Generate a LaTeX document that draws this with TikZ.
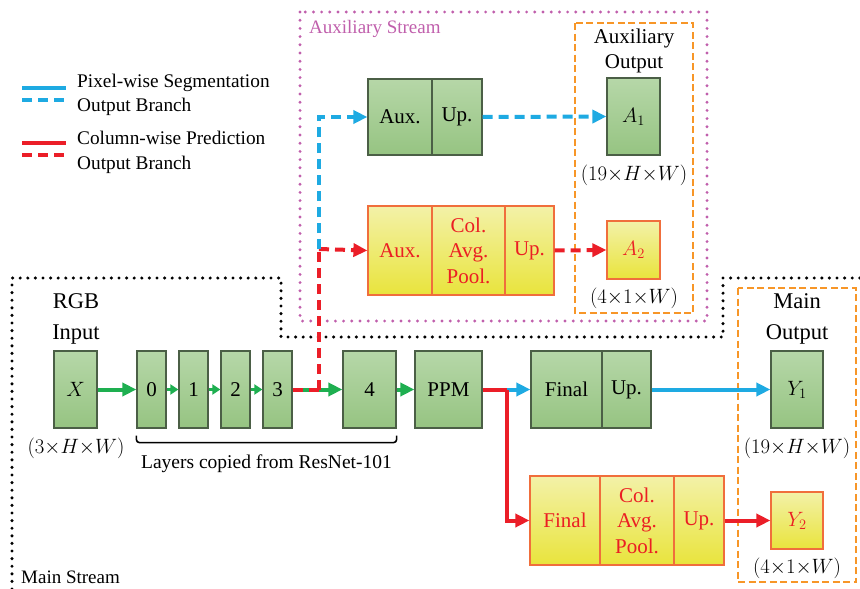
\documentclass[tikz,border=0pt]{standalone}
\usepackage{fontspec}
\setmainfont{Liberation Serif}
\usetikzlibrary{arrows.meta,calc}
\definecolor{gtop}{RGB}{182,215,168}
\definecolor{gbot}{RGB}{150,196,130}
\definecolor{gedge}{RGB}{75,95,70}
\definecolor{ytop}{RGB}{243,241,168}
\definecolor{ybot}{RGB}{233,228,60}
\definecolor{yedge}{RGB}{240,110,60}
\definecolor{redtxt}{RGB}{235,30,35}
\definecolor{bluel}{RGB}{30,170,226}
\definecolor{greenl}{RGB}{30,175,80}
\definecolor{redl}{RGB}{235,30,40}
\definecolor{purp}{RGB}{192,95,172}
\definecolor{orng}{RGB}{247,150,40}
\tikzset{
  gbox/.style={draw=gedge, line width=1.2, top color=gtop, bottom color=gbot, inner sep=0, font=\fontsize{21}{24}\selectfont, align=center},
  ybox/.style={draw=yedge, line width=1.2, top color=ytop, bottom color=ybot, inner sep=0, text=redtxt, font=\fontsize{21}{25.5}\selectfont, align=center},
  lbl/.style={inner sep=0, font=\fontsize{22.5}{31}\selectfont, align=center},
  dimlbl/.style={inner sep=0, font=\fontsize{21}{24}\selectfont},
  garr/.style={draw=greenl, line width=4, -{Triangle[length=14,width=13]}},
  gsmall/.style={draw=greenl, line width=3.5, -{Triangle[length=8,width=10]}},
  barr/.style={draw=bluel, line width=4, -{Triangle[length=14,width=13]}},
  rarr/.style={draw=redl, line width=4, -{Triangle[length=14,width=13]}},
  bdash/.style={draw=bluel, line width=4, dash pattern=on 10 off 6},
  rdash/.style={draw=redl, line width=4, dash pattern=on 10 off 6},
  dotk/.style={draw=black, line width=3.4, line cap=round, dash pattern=on 0pt off 7.6},
  dotp/.style={draw=purp, line width=3.2, line cap=round, dash pattern=on 0pt off 8.2},
  odash/.style={draw=orng, line width=2, dash pattern=on 7 off 3.5},
}
\begin{document}
\begin{tikzpicture}[x=1pt,y=-1pt]
\useasboundingbox (0,0) rectangle (860,589);

% frames
\draw[dotk] (12,589) -- (12,278) -- (281,278) -- (281,337) -- (723,337) -- (723,278) -- (860,278);
\draw[dotp] (300,12) rectangle (707,321);
\draw[odash] (575,23) rectangle (693,313);
\draw[odash] (738,288) rectangle (856,582);
\node[anchor=west, inner sep=0, text=purp, font=\fontsize{19}{20}\selectfont] (auxst) at (309,29) {Auxiliary Stream};
\node[anchor=west, inner sep=0, font=\fontsize{19}{20}\selectfont] (mainst) at (21,577) {Main Stream};

% legend
\coordinate (lb1a) at (22,88); \coordinate (lb1b) at (66,88);
\coordinate (lb2a) at (22,100); \coordinate (lb2b) at (66,100);
\coordinate (lr1a) at (22,143); \coordinate (lr1b) at (66,143);
\coordinate (lr2a) at (22,155); \coordinate (lr2b) at (66,155);
\draw[draw=bluel, line width=4] (lb1a) -- (lb1b);
\draw[draw=bluel, line width=4, dash pattern=on 10 off 6] (lb2a) -- (lb2b);
\draw[draw=redl, line width=4] (lr1a) -- (lr1b);
\draw[draw=redl, line width=4, dash pattern=on 10 off 6] (lr2a) -- (lr2b);
\node[anchor=west, inner sep=0, align=left, font=\fontsize{19.3}{24.5}\selectfont] (legb) at (77,95) {Pixel-wise Segmentation\\Output Branch};
\node[anchor=west, inner sep=0, align=left, font=\fontsize{19.3}{24.5}\selectfont] (legr) at (77,152.5) {Column-wise Prediction\\Output Branch};

% main row
\node[gbox, minimum width=43, minimum height=77] (X) at (75.5,389.5) {$X$};
\node[gbox, minimum width=29, minimum height=77] (L0) at (151.5,389.5) {0};
\node[gbox, minimum width=29, minimum height=77] (L1) at (193.5,389.5) {1};
\node[gbox, minimum width=29, minimum height=77] (L2) at (235.5,389.5) {2};
\node[gbox, minimum width=29, minimum height=77] (L3) at (277.5,389.5) {3};
\node[gbox, minimum width=53, minimum height=77] (L4) at (369.5,389.5) {4};
\node[gbox, minimum width=67, minimum height=77] (PPM) at (448.5,389.5) {PPM};
\node[gbox, minimum width=71, minimum height=77] (fin) at (566.5,389.5) {Final};
\node[gbox, minimum width=49, minimum height=77] (finup) at (626.5,389.5) {Up.};
\node[gbox, minimum width=52, minimum height=77] (Y1) at (797,389.5) {$Y_1$};

\node[ybox, minimum width=70, minimum height=89] (rfin) at (565,520.5) {Final};
\node[ybox, minimum width=74, minimum height=89] (rcol) at (637,520.5) {Col.\\Avg.\\Pool.};
\node[ybox, minimum width=50, minimum height=89] (rup) at (699,520.5) {Up.};
\node[ybox, minimum width=52, minimum height=57] (Y2) at (797,520.5) {$Y_2$};

% aux
\node[gbox, minimum width=64, minimum height=76] (aux) at (400,117) {Aux.};
\node[gbox, minimum width=50, minimum height=76] (auxup) at (457,117) {Up.};
\node[gbox, minimum width=53, minimum height=77] (A1) at (633.5,116.5) {$A_1$};
\node[ybox, minimum width=64, minimum height=89] (raux) at (400,250.5) {Aux.};
\node[ybox, minimum width=73, minimum height=89] (rcolA) at (468.5,250.5) {Col.\\Avg.\\Pool.};
\node[ybox, minimum width=49, minimum height=89] (rupA) at (529.5,250.5) {Up.};
\node[ybox, minimum width=53, minimum height=58] (A2) at (633.5,250) {$A_2$};

% labels
\node[lbl] (rgb) at (76,318.5) {RGB\\Input};
\node[dimlbl] (dX) at (76,448) {$(3{\times}H{\times}W)$};
\node[lbl, font=\fontsize{21}{25}\selectfont] (auxout) at (634,51) {Auxiliary\\Output};
\node[dimlbl] (dA1) at (634,175) {$(19{\times}H{\times}W)$};
\node[dimlbl] (dA2) at (634,298) {$(4{\times}1{\times}W)$};
\node[lbl] (mainout) at (797,318.5) {Main\\Output};
\node[dimlbl] (dY1) at (797,448) {$(19{\times}H{\times}W)$};
\node[dimlbl] (dY2) at (797,568) {$(4{\times}1{\times}W)$};

% bracket
\draw[line width=1.6, rounded corners=3] ($(L0.south west)+(0,7)$) -- ($(L0.south west)+(0,14)$) -- ($(L4.south east)+(0,14)$) -- ($(L4.south east)+(0,7)$);
\node[inner sep=0, font=\fontsize{19.5}{20}\selectfont] (brk) at (266.5,464) {Layers copied from ResNet-101};

% main connectors
\draw[garr] (X) -- (L0);
\draw[gsmall] (L0) -- (L1);
\draw[gsmall] (L1) -- (L2);
\draw[gsmall] (L2) -- (L3);
\draw[garr] (L3) -- (L4);
\draw[garr] (L4) -- (PPM);
\coordinate (j1) at (319,389.5);
\coordinate (j2) at (319,249);
\coordinate (j3) at (319,117);
\coordinate (s1) at (507,389.5);
\coordinate (s2) at (507,520.5);
\draw[rdash] (L3.east) -- (j1);
\draw[rdash, line cap=butt] (j1) -- (j2);
\draw[rdash, -{Triangle[length=14,width=13]}] (j2) -- (raux.west);
\draw[bdash, -{Triangle[length=14,width=13]}] (j2) -- (j3) -- (aux.west);
\draw[bdash, -{Triangle[length=14,width=13]}] (auxup.east) -- (A1.west);
\draw[rdash, -{Triangle[length=14,width=13]}] (rupA.east) -- (A2.west);
\draw[draw=redl, line width=4] (PPM.east) -- (s1);
\draw[barr] (s1) -- (fin.west);
\draw[rarr] (s1) -- (s2) -- (rfin.west);
\draw[barr] (finup.east) -- (Y1.west);
\draw[rarr] (rup.east) -- (Y2.west);
\end{tikzpicture}
\end{document}
